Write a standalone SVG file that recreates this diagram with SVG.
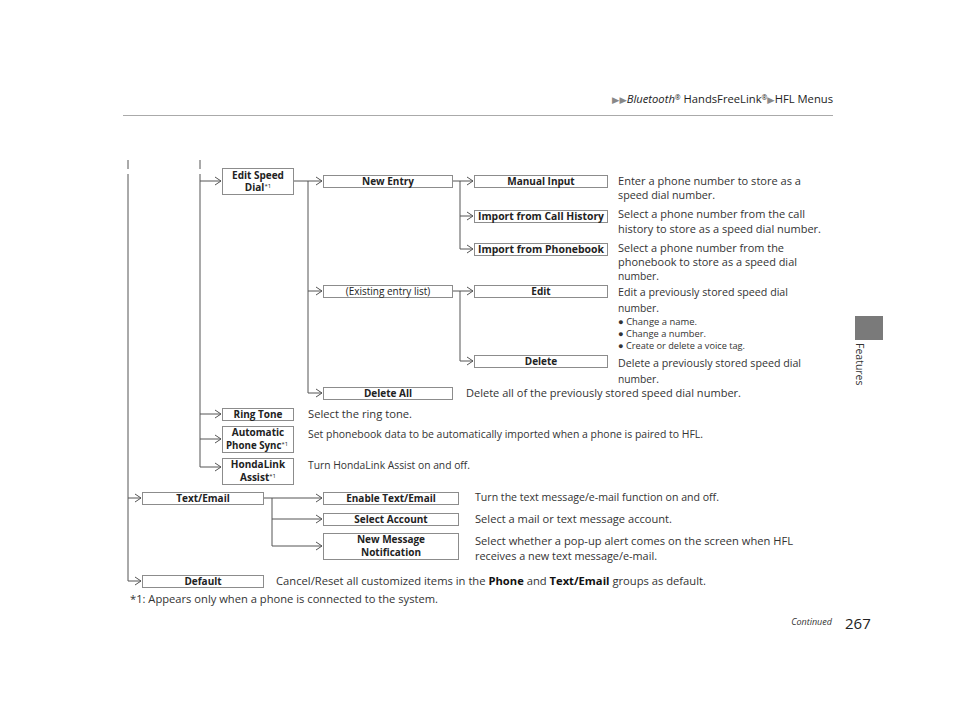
<svg xmlns="http://www.w3.org/2000/svg" width="960" height="722" viewBox="0 0 960 722">
<defs>
<marker id="ah" markerWidth="8" markerHeight="10" refX="7" refY="5" orient="auto" markerUnits="userSpaceOnUse">
<path d="M1,1 L7,5 L1,9" fill="none" stroke="#555" stroke-width="1"/>
</marker>
<style>
.l{stroke:#555;stroke-width:1;fill:none}
.a{marker-end:url(#ah)}
.b{fill:#fff;stroke:#8c8c8c;stroke-width:1}
.bt{font-family:"Open Sans","Noto Sans",sans-serif;font-weight:bold;font-size:10px;fill:#222;text-anchor:middle}
.d{font-family:"Open Sans","Noto Sans",sans-serif;font-size:11px;fill:#333}
.s{font-family:"Open Sans","Noto Sans",sans-serif;font-size:9px;fill:#333}
.sup{font-size:6px;font-weight:normal}
</style>
</defs>
<rect width="960" height="722" fill="#fff"/>

<!-- header -->
<g id="header">
<text x="833" y="103" text-anchor="end" textLength="221" lengthAdjust="spacingAndGlyphs" font-family="'Open Sans','Noto Sans',sans-serif" font-size="10.5" fill="#222"><tspan fill="#888" font-family="'DejaVu Sans',sans-serif" font-size="9">▶▶</tspan><tspan font-style="italic">Bluetooth</tspan><tspan font-size="6.5" dy="-3">®</tspan><tspan dy="3"> HandsFreeLink</tspan><tspan font-size="6.5" dy="-3">®</tspan><tspan dy="3" fill="#888" font-family="'DejaVu Sans',sans-serif" font-size="9">▶</tspan><tspan>HFL Menus</tspan></text>
<line x1="123" y1="115.5" x2="833" y2="115.5" stroke="#aaa" stroke-width="1.2"/>
</g>

<!-- side tab -->
<g id="sidetab">
<rect x="855" y="316" width="28" height="24" fill="#7a7a7a"/>
<text transform="translate(856,343) rotate(90)" font-family="'Open Sans','Noto Sans',sans-serif" font-size="10.5" fill="#333">Features</text>
</g>

<!-- connectors -->
<g id="connectors">
<line class="l" x1="128" y1="160" x2="128" y2="169"/>
<line class="l" x1="200" y1="160" x2="200" y2="169"/>
<path class="l a" d="M128,174 V581 H141"/>
<line class="l a" x1="128" y1="498" x2="141" y2="498"/>
<path class="l a" d="M200,174 V467 H221"/>
<line class="l a" x1="200" y1="181" x2="221" y2="181"/>
<line class="l a" x1="200" y1="414" x2="221" y2="414"/>
<line class="l a" x1="200" y1="439" x2="221" y2="439"/>
<line class="l a" x1="293" y1="181" x2="322" y2="181"/>
<path class="l a" d="M308,181 V393 H322"/>
<line class="l a" x1="308" y1="291" x2="322" y2="291"/>
<line class="l a" x1="452" y1="181" x2="473" y2="181"/>
<path class="l a" d="M460,181 V249 H473"/>
<line class="l a" x1="460" y1="216" x2="473" y2="216"/>
<line class="l a" x1="452" y1="291" x2="473" y2="291"/>
<path class="l a" d="M460,291 V361 H473"/>
<line class="l a" x1="263" y1="498" x2="322" y2="498"/>
<path class="l a" d="M272,498 V546 H322"/>
<line class="l a" x1="272" y1="519" x2="322" y2="519"/>
</g>

<!-- nodes -->
<g id="edit-speed-dial">
<rect class="b" x="222.5" y="168.5" width="71" height="26"/>
<text class="bt" x="258" y="178.5">Edit Speed</text>
<text class="bt" x="258" y="191">Dial<tspan class="sup" dy="-3">*1</tspan></text>
</g>
<g id="new-entry">
<rect class="b" x="323.5" y="175.5" width="129" height="12"/>
<text class="bt" x="388" y="185">New Entry</text>
</g>
<g id="manual-input">
<rect class="b" x="474.5" y="175.5" width="133" height="12"/>
<text class="bt" x="541" y="185">Manual Input</text>
<text class="d" x="618" y="185" textLength="183" lengthAdjust="spacingAndGlyphs">Enter a phone number to store as a</text>
<text class="d" x="618" y="199" textLength="97" lengthAdjust="spacingAndGlyphs">speed dial number.</text>
</g>
<g id="import-call-history">
<rect class="b" x="474.5" y="210.5" width="133" height="12"/>
<text class="bt" x="541" y="220" textLength="126" lengthAdjust="spacingAndGlyphs">Import from Call History</text>
<text class="d" x="618" y="218" textLength="187" lengthAdjust="spacingAndGlyphs">Select a phone number from the call</text>
<text class="d" x="618" y="233" textLength="203" lengthAdjust="spacingAndGlyphs">history to store as a speed dial number.</text>
</g>
<g id="import-phonebook">
<rect class="b" x="474.5" y="243.5" width="133" height="12"/>
<text class="bt" x="541" y="253" textLength="126" lengthAdjust="spacingAndGlyphs">Import from Phonebook</text>
<text class="d" x="618" y="252" textLength="166" lengthAdjust="spacingAndGlyphs">Select a phone number from the</text>
<text class="d" x="618" y="266" textLength="179" lengthAdjust="spacingAndGlyphs">phonebook to store as a speed dial</text>
<text class="d" x="618" y="280" textLength="41" lengthAdjust="spacingAndGlyphs">number.</text>
</g>
<g id="existing-entry-list">
<rect class="b" x="323.5" y="285.5" width="129" height="12"/>
<text x="388" y="295" text-anchor="middle" font-family="'Open Sans','Noto Sans',sans-serif" font-size="10" fill="#222">(Existing entry list)</text>
</g>
<g id="edit">
<rect class="b" x="474.5" y="285.5" width="133" height="12"/>
<text class="bt" x="541" y="295">Edit</text>
<text class="d" x="618" y="296" textLength="170" lengthAdjust="spacingAndGlyphs">Edit a previously stored speed dial</text>
<text class="d" x="618" y="312" textLength="41" lengthAdjust="spacingAndGlyphs">number.</text>
<text class="s" x="618" y="325" textLength="79" lengthAdjust="spacingAndGlyphs">● Change a name.</text>
<text class="s" x="618" y="337" textLength="88" lengthAdjust="spacingAndGlyphs">● Change a number.</text>
<text class="s" x="618" y="349" textLength="127" lengthAdjust="spacingAndGlyphs">● Create or delete a voice tag.</text>
</g>
<g id="delete">
<rect class="b" x="474.5" y="355.5" width="133" height="12"/>
<text class="bt" x="541" y="365">Delete</text>
<text class="d" x="618" y="367" textLength="183" lengthAdjust="spacingAndGlyphs">Delete a previously stored speed dial</text>
<text class="d" x="618" y="383" textLength="41" lengthAdjust="spacingAndGlyphs">number.</text>
</g>
<g id="delete-all">
<rect class="b" x="323.5" y="387.5" width="129" height="12"/>
<text class="bt" x="388" y="397">Delete All</text>
<text class="d" x="466" y="397" textLength="275" lengthAdjust="spacingAndGlyphs">Delete all of the previously stored speed dial number.</text>
</g>
<g id="ring-tone">
<rect class="b" x="222.5" y="408.5" width="71" height="12"/>
<text class="bt" x="258" y="418">Ring Tone</text>
<text class="d" x="308" y="418" textLength="104" lengthAdjust="spacingAndGlyphs">Select the ring tone.</text>
</g>
<g id="automatic-phone-sync">
<rect class="b" x="222.5" y="426.5" width="71" height="26"/>
<text class="bt" x="258" y="436">Automatic</text>
<text class="bt" x="257" y="449" textLength="62" lengthAdjust="spacingAndGlyphs">Phone Sync<tspan class="sup" dy="-3">*1</tspan></text>
<text class="d" x="308" y="438" textLength="395" lengthAdjust="spacingAndGlyphs">Set phonebook data to be automatically imported when a phone is paired to HFL.</text>
</g>
<g id="hondalink-assist">
<rect class="b" x="222.5" y="458.5" width="71" height="26"/>
<text class="bt" x="258" y="468">HondaLink</text>
<text class="bt" x="258" y="481">Assist<tspan class="sup" dy="-3">*1</tspan></text>
<text class="d" x="308" y="469" textLength="162" lengthAdjust="spacingAndGlyphs">Turn HondaLink Assist on and off.</text>
</g>
<g id="text-email">
<rect class="b" x="142.5" y="492.5" width="121" height="12"/>
<text class="bt" x="203" y="502">Text/Email</text>
</g>
<g id="enable-text-email">
<rect class="b" x="323.5" y="492.5" width="135" height="12"/>
<text class="bt" x="391" y="502">Enable Text/Email</text>
<text class="d" x="475" y="501" textLength="244" lengthAdjust="spacingAndGlyphs">Turn the text message/e-mail function on and off.</text>
</g>
<g id="select-account">
<rect class="b" x="323.5" y="513.5" width="135" height="12"/>
<text class="bt" x="391" y="523">Select Account</text>
<text class="d" x="475" y="523" textLength="197" lengthAdjust="spacingAndGlyphs">Select a mail or text message account.</text>
</g>
<g id="new-message-notification">
<rect class="b" x="323.5" y="533.5" width="135" height="26"/>
<text class="bt" x="391" y="543">New Message</text>
<text class="bt" x="391" y="556">Notification</text>
<text class="d" x="475" y="545" textLength="318" lengthAdjust="spacingAndGlyphs">Select whether a pop-up alert comes on the screen when HFL</text>
<text class="d" x="475" y="560" textLength="182" lengthAdjust="spacingAndGlyphs">receives a new text message/e-mail.</text>
</g>
<g id="default">
<rect class="b" x="142.5" y="575.5" width="121" height="12"/>
<text class="bt" x="203" y="585">Default</text>
<text class="d" x="276" y="585" textLength="430" lengthAdjust="spacingAndGlyphs">Cancel/Reset all customized items in the <tspan font-weight="bold" fill="#111">Phone</tspan> and <tspan font-weight="bold" fill="#111">Text/Email</tspan> groups as default.</text>
</g>

<g id="footnote">
<text class="d" x="130" y="603" textLength="308" lengthAdjust="spacingAndGlyphs">*1: Appears only when a phone is connected to the system.</text>
</g>

<g id="footer">
<text x="832" y="625" text-anchor="end" font-family="'Open Sans','Noto Sans',sans-serif" font-size="9" font-style="italic" fill="#333">Continued</text>
<text x="845" y="629" font-family="'Open Sans','Noto Sans',sans-serif" font-size="15" fill="#222">267</text>
</g>
</svg>
